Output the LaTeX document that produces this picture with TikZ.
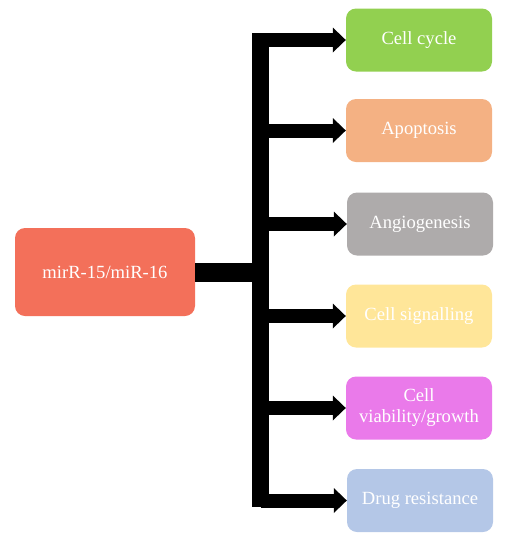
\documentclass[tikz,border=0pt]{standalone}
\usepackage{fontspec}
\setmainfont{Liberation Serif}
\usetikzlibrary{calc}
\definecolor{cgreen}{HTML}{92D050}
\definecolor{corange}{HTML}{F4B183}
\definecolor{cgray}{HTML}{AEABAB}
\definecolor{cyellow}{HTML}{FFE699}
\definecolor{cmagenta}{HTML}{EA7AEA}
\definecolor{cblue}{HTML}{B4C7E7}
\definecolor{cred}{HTML}{F3705A}
\tikzset{
  box/.style={rounded corners=10pt, minimum width=146pt, minimum height=63pt,
    text=white, font=\fontsize{18.6}{21}\selectfont, align=center, inner sep=2pt},
  shaft/.style={line width=14pt},
}
\begin{document}
\begin{tikzpicture}[x=1pt,y=-1pt]
\useasboundingbox (0,0) rectangle (511,550);
\node[box, fill=cred, minimum width=180pt, minimum height=88pt] (mir) at (105,272) {mirR-15/miR-16};
\node[box, fill=cgreen] (b1) at (419,40) {Cell cycle};
\node[box, fill=corange] (b2) at (419,130.5) {Apoptosis};
\node[box, fill=cgray] (b3) at (420,224) {Angiogenesis};
\node[box, fill=cyellow] (b4) at (419,316) {Cell signalling};
\node[box, fill=cmagenta] (b5) at (419,408) {Cell\\viability/growth};
\node[box, fill=cblue] (b6) at (420,500.5) {Drug resistance};
% trunk
\coordinate (ttop) at (260.5,33);
\coordinate (tbot) at (260.5,507);
\fill (252,33) rectangle (269,507);
\draw[line width=19pt] (mir.east) -- (ttop |- mir.east);
\foreach \b in {b1,b2,b3,b4,b5,b6}{
  \draw[shaft] (ttop |- \b.west) -- ($(\b.west)+(-12,0)$);
  \fill ($(\b.west)+(-13,-12.5)$) -- (\b.west) -- ($(\b.west)+(-13,12.5)$) -- cycle;
}
\end{tikzpicture}
\end{document}
